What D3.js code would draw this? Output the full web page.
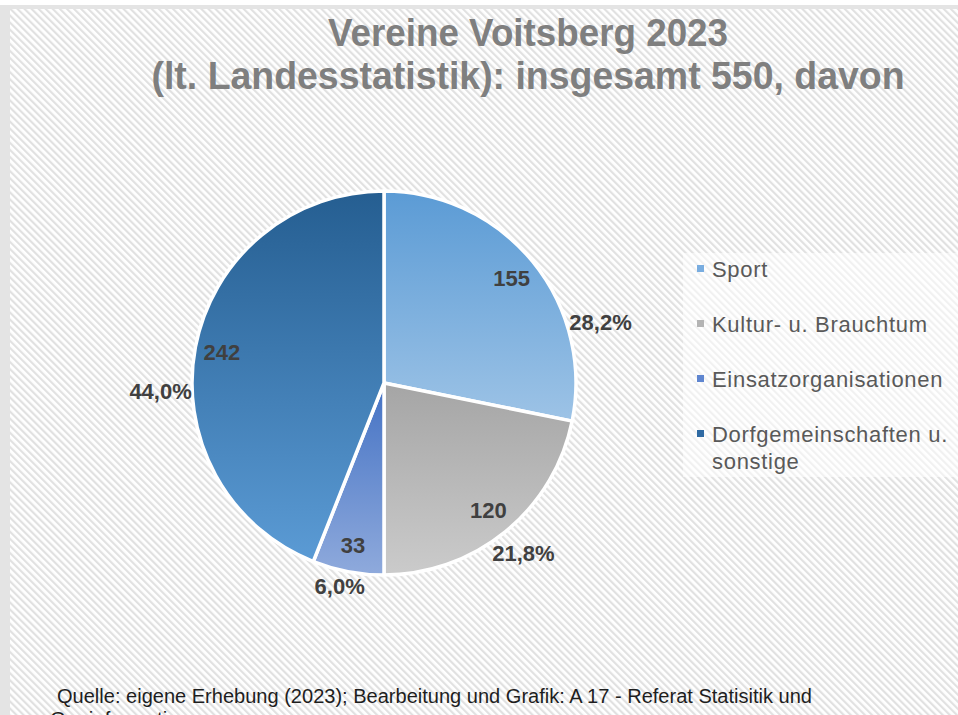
<!DOCTYPE html>
<html>
<head>
<meta charset="utf-8">
<script src="https://cdn.jsdelivr.net/npm/d3@7"></script>
<style>
  body { margin: 0; background: #fff; }
  svg { display: block; font-family: "Liberation Sans", Arial, sans-serif; }
</style>
</head>
<body>
<svg id="chart" width="958" height="715"></svg>
<script>
// data
var categories = ['Sport', 'Kultur- u. Brauchtum', 'Einsatzorganisationen', 'Dorfgemeinschaften u. sonstige'];
var counts = [155, 120, 33, 242];
var percentLabels = ['28,2%', '21,8%', '6,0%', '44,0%'];
var titleLines = ['Vereine Voitsberg 2023', '(lt. Landesstatistik): insgesamt 550, davon'];
var sourceLines = ['Quelle: eigene Erhebung (2023); Bearbeitung und Grafik: A 17 - Referat Statisitik und', 'Geoinformation'];

// styling
var gradTop = ['#5b9bd5', '#a5a5a5', '#4472c4', '#255e91'];
var gradBottom = ['#9dc3e6', '#cbcbcb', '#8faadc', '#5b9bd5'];
var swatch = ['#79ade0', '#b4b4b4', '#5f86d0', '#2f6aa3'];
var labelShift = [23.5, 0, 1.5, -13]; // degrees, outside labels nudged like the original

var width = 958, height = 715;
var cx = 384, cy = 383, radius = 192;

var svg = d3.select('#chart');
var defs = svg.append('defs');

var hatch = defs.append('pattern')
  .attr('id', 'hatch')
  .attr('patternUnits', 'userSpaceOnUse')
  .attr('width', 5).attr('height', 5)
  .attr('patternTransform', 'rotate(-45)');
hatch.append('rect').attr('width', 5).attr('height', 5).attr('fill', '#ffffff');
hatch.append('rect').attr('width', 2.2).attr('height', 5).attr('fill', '#e1e1e1');

categories.forEach(function (c, i) {
  var g = defs.append('linearGradient')
    .attr('id', 'grad' + i)
    .attr('x1', 0).attr('y1', 0).attr('x2', 0).attr('y2', 1);
  g.append('stop').attr('offset', '0%').attr('stop-color', gradTop[i]);
  g.append('stop').attr('offset', '100%').attr('stop-color', gradBottom[i]);
});

// frame + background
svg.append('rect').attr('x', 0).attr('y', 5).attr('width', width).attr('height', height - 5).attr('fill', '#e4e4e4');
svg.append('rect').attr('x', 10).attr('y', 9).attr('width', width - 10).attr('height', height - 9).attr('fill', 'url(#hatch)');

// title
var title = svg.append('g').attr('fill', '#7f7f7f').attr('font-weight', 'bold')
  .attr('font-size', 38).attr('text-anchor', 'middle');
var titleLengths = [400, 753];
title.selectAll('text').data(titleLines).enter().append('text')
  .attr('x', 528)
  .attr('y', function (d, i) { return 46 + i * 43; })
  .attr('textLength', function (d, i) { return titleLengths[i]; })
  .attr('lengthAdjust', 'spacingAndGlyphs')
  .text(function (d) { return d; });

// pie
var pie = d3.pie().sort(null).startAngle(0).endAngle(2 * Math.PI);
var arcs = pie(counts);
var arc = d3.arc().innerRadius(0).outerRadius(radius);

var g = svg.append('g').attr('transform', 'translate(' + cx + ',' + cy + ')');

g.selectAll('path.slice')
  .data(arcs)
  .enter().append('path')
  .attr('class', 'slice')
  .attr('d', arc)
  .attr('fill', function (d, i) { return 'url(#grad' + i + ')'; })
  .attr('stroke', '#ffffff')
  .attr('stroke-width', 3.5)
  .attr('stroke-linejoin', 'round');

function midAngle(d) { return (d.startAngle + d.endAngle) / 2; }

// value labels inside
g.selectAll('text.value')
  .data(arcs)
  .enter().append('text')
  .attr('class', 'value')
  .attr('x', function (d) { return Math.sin(midAngle(d)) * 165; })
  .attr('y', function (d) { return -Math.cos(midAngle(d)) * 165; })
  .attr('dy', '0.35em')
  .attr('text-anchor', 'middle')
  .attr('font-size', 22)
  .attr('font-weight', 'bold')
  .attr('fill', '#404040')
  .text(function (d) { return d.data; });

// percent labels outside
g.selectAll('text.pct')
  .data(arcs)
  .enter().append('text')
  .attr('class', 'pct')
  .attr('text-anchor', 'middle')
  .attr('dy', '0.35em')
  .attr('font-size', 22)
  .attr('font-weight', 'bold')
  .attr('fill', '#404040')
  .text(function (d, i) { return percentLabels[i]; })
  .each(function (d, i) {
    var el = d3.select(this);
    var w = this.getComputedTextLength() / 2, h = 11;
    var a = midAngle(d) + labelShift[i] * Math.PI / 180;
    var rr = radius + Math.abs(Math.sin(a)) * w + Math.abs(Math.cos(a)) * h;
    el.attr('x', Math.sin(a) * rr).attr('y', -Math.cos(a) * rr);
  });

// legend
var legend = svg.append('g').attr('transform', 'translate(683,253)');
legend.append('rect').attr('width', 275).attr('height', 224).attr('fill', '#ffffff').attr('fill-opacity', 0.55);

var item = legend.selectAll('g.item')
  .data(categories)
  .enter().append('g')
  .attr('class', 'item')
  .attr('transform', function (d, i) { return 'translate(0,' + (16 + i * 55) + ')'; });

item.append('rect')
  .attr('x', 14).attr('y', -4)
  .attr('width', 7).attr('height', 7)
  .attr('fill', function (d, i) { return swatch[i]; });

item.append('text')
  .attr('x', 29).attr('y', 8)
  .attr('font-size', 22)
  .attr('letter-spacing', 0.7)
  .attr('fill', '#595959')
  .each(function (d) {
    var t = d3.select(this);
    var words = d.split(' '), line = [];
    var tspan = t.append('tspan').attr('x', 29).attr('dy', 0);
    words.forEach(function (w) {
      line.push(w);
      tspan.text(line.join(' '));
      if (tspan.node().getComputedTextLength() > 244 && line.length > 1) {
        line.pop();
        tspan.text(line.join(' '));
        line = [w];
        tspan = t.append('tspan').attr('x', 29).attr('dy', 27).text(w);
      }
    });
  });

// source
svg.append('g').attr('fill', '#1e1e1e').attr('font-size', 20)
  .selectAll('text').data(sourceLines).enter().append('text')
  .attr('x', function (d, i) { return i === 0 ? 57 : 50; })
  .attr('y', function (d, i) { return 703 + i * 23; })
  .attr('textLength', function (d, i) { return i === 0 ? 755 : 140; })
  .attr('lengthAdjust', 'spacingAndGlyphs')
  .text(function (d) { return d; });
</script>
</body>
</html>
